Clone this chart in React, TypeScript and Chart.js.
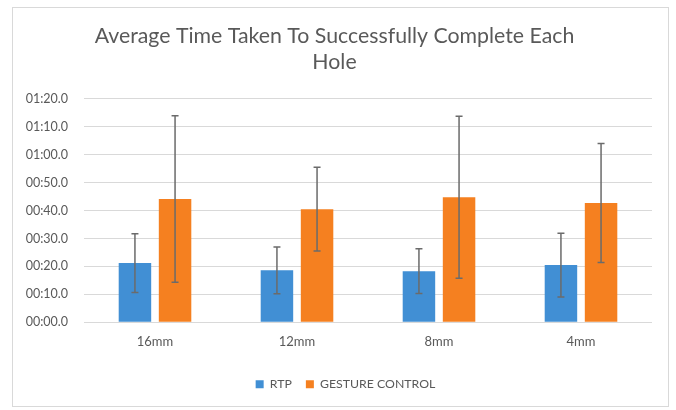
import React, { useEffect, useRef } from "react";
import { Chart, registerables } from "chart.js";

Chart.register(...registerables);

const categories = ["16mm", "12mm", "8mm", "4mm"];
const seriesNames = ["RTP", "GESTURE CONTROL"];
const rtpMean = [21.2, 18.6, 18.3, 20.5];
const rtpErr = [10.5, 8.4, 8.0, 11.4];
const gcMean = [44.1, 40.5, 44.8, 42.7];
const gcErr = [29.8, 15.0, 29.0, 21.3];
const titleLines = ["Average Time Taken To Successfully Complete Each", "Hole"];
const yMax = 80;
const yStep = 10;

const FONT = "Lato, 'Open Sans', sans-serif";
const TEXT = "#595959";

function fmtTime(v: number): string {
  const m = Math.floor(v / 60);
  const s = v - m * 60;
  const pad = (n: number) => String(Math.floor(n)).padStart(2, "0");
  return `${pad(m)}:${pad(s)}.0`;
}

const errorBarPlugin = {
  id: "errorBars",
  afterDatasetsDraw(chart: any) {
    const ctx = chart.ctx;
    const yScale = chart.scales.y;
    const errs = [rtpErr, gcErr];
    const means = [rtpMean, gcMean];
    ctx.save();
    ctx.strokeStyle = "#6b6b6b";
    ctx.lineWidth = 1.5;
    chart.data.datasets.forEach((_d: any, di: number) => {
      const meta = chart.getDatasetMeta(di);
      meta.data.forEach((bar: any, i: number) => {
        const x = bar.x;
        const top = yScale.getPixelForValue(means[di][i] + errs[di][i]);
        const bot = yScale.getPixelForValue(means[di][i] - errs[di][i]);
        const cw = 3.5;
        ctx.beginPath();
        ctx.moveTo(x, top);
        ctx.lineTo(x, bot);
        ctx.moveTo(x - cw, top);
        ctx.lineTo(x + cw, top);
        ctx.moveTo(x - cw, bot);
        ctx.lineTo(x + cw, bot);
        ctx.stroke();
      });
    });
    ctx.restore();
  },
};

const legendShiftPlugin = {
  id: "legendShift",
  afterLayout(chart: any) {
    if (chart.legend) {
      chart.legend.left += 11;
      chart.legend.right += 11;
    }
  },
};

export default function App() {
  const ref = useRef<HTMLCanvasElement | null>(null);
  useEffect(() => {
    if (!ref.current) return;
    const chart = new Chart(ref.current, {
      type: "bar",
      data: {
        labels: categories,
        datasets: [
          {
            label: seriesNames[0],
            data: rtpMean,
            backgroundColor: "#418FD4",
            categoryPercentage: 0.565,
            barPercentage: 0.81,
          },
          {
            label: seriesNames[1],
            data: gcMean,
            backgroundColor: "#F58020",
            categoryPercentage: 0.565,
            barPercentage: 0.81,
          },
        ],
      },
      options: {
        animation: false,
        responsive: false,
        layout: { padding: { top: 23, left: 17, right: 24, bottom: 9.5 } },
        plugins: {
          title: {
            display: true,
            text: titleLines,
            color: TEXT,
            font: { family: FONT, size: 21.3, weight: "normal", lineHeight: 1.24 },
            padding: { top: 0, bottom: 23 },
          },
          legend: {
            position: "bottom",
            labels: {
              boxWidth: 8,
              boxHeight: 8,
              padding: 14,
              color: TEXT,
              font: { family: FONT, size: 12.3 },
            },
          },
          tooltip: { enabled: false },
        },
        scales: {
          x: {
            grid: { display: false, drawTicks: false },
            border: { display: false },
            ticks: { color: TEXT, font: { family: FONT, size: 13 }, padding: 12 },
            afterFit: (scale: any) => {
              scale.height = 41.9;
            },
          },
          y: {
            min: 0,
            max: yMax,
            grid: { color: "#d9d9d9", lineWidth: 1, drawTicks: false },
            border: { display: false },
            ticks: {
              stepSize: yStep,
              color: TEXT,
              font: { family: FONT, size: 12.5 },
              padding: 16,
              callback: (v: any) => fmtTime(Number(v)),
            },
            afterFit: (scale: any) => {
              scale.width = 67;
            },
          },
        },
      },
      plugins: [errorBarPlugin, legendShiftPlugin],
    });
    return () => chart.destroy();
  }, []);

  return (
    <div style={{ position: "fixed", left: 0, top: 0, width: 676, height: 410, background: "#fff" }}>
      <div
        style={{
          position: "absolute",
          left: 12,
          top: 7,
          width: 657,
          height: 400,
          border: "1.5px solid #d9d9d9",
          boxSizing: "border-box",
        }}
      />
      <canvas
        ref={ref}
        width={676}
        height={410}
        style={{ position: "absolute", left: 0, top: 0, width: 676, height: 410 }}
      />
    </div>
  );
}
